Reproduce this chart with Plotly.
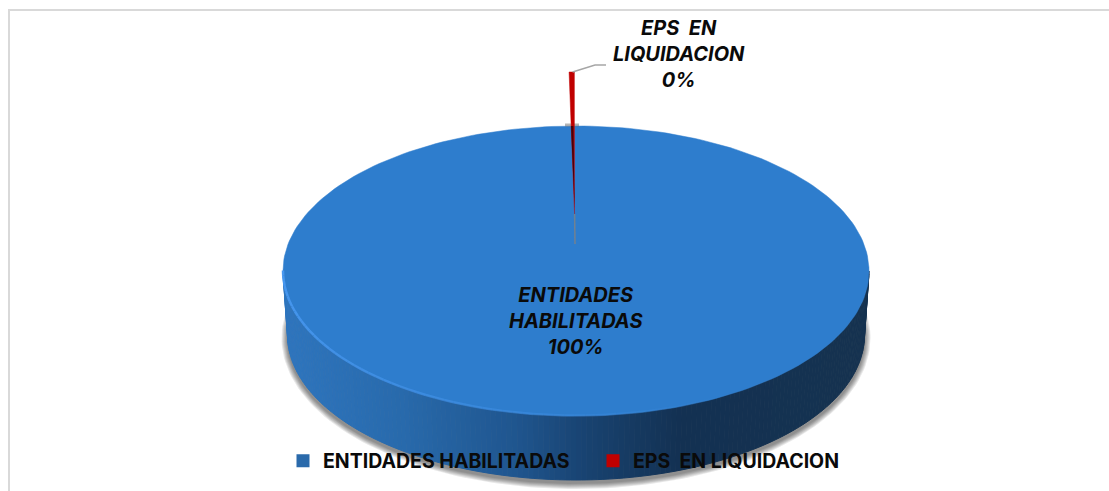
import math
import numpy as np
import plotly.graph_objects as go

# ---- data ----
categories = ["ENTIDADES HABILITADAS", "EPS  EN LIQUIDACION"]
values = [99.7, 0.3]
label_lines = [["ENTIDADES", "HABILITADAS"], ["EPS  EN", "LIQUIDACION"]]
slice_colors = ["#2E7DCD", "#C00000"]

# ---- drawing geometry of the tilted disc ----
W, H = 1109, 491
CX, CY, RX, RY = 576, 271, 293, 145
BCY, BRX, BRY = 335, 288.5, 145
APEX_X, APEX_Y, EXPLODED_R = 574.6, 214, 142
STOPS = [(0.0, (46, 117, 190)), (0.2, (40, 106, 172)), (0.4, (31, 85, 142)),
         (0.52, (24, 66, 112)), (0.68, (19, 49, 82)), (1.0, (21, 50, 80))]
FONT = "Inter"


def side_colour(t):
    for (t0, c0), (t1, c1) in zip(STOPS, STOPS[1:]):
        if t <= t1:
            f = (t - t0) / (t1 - t0)
            return "rgb(%d,%d,%d)" % tuple(round(a + (b - a) * f) for a, b in zip(c0, c1))
    return "rgb(%d,%d,%d)" % STOPS[-1][1]


fig = go.Figure()


def poly(x, y, fill, line=None, width=0):
    fig.add_trace(go.Scatter(x=list(x), y=list(y), mode="lines", fill="toself", fillcolor=fill,
                             line=dict(color=line or "rgba(0,0,0,0)", width=width),
                             showlegend=False, hoverinfo="skip"))


def stroke(x, y, color, width):
    fig.add_trace(go.Scatter(x=list(x), y=list(y), mode="lines", line=dict(color=color, width=width),
                             showlegend=False, hoverinfo="skip"))


# soft shadow under the disc
ang = np.linspace(0, 2 * np.pi, 241)
for k in range(6, 0, -1):
    poly(CX + (BRX + k) * np.cos(ang), BCY + 3 + (BRY + k) * np.sin(ang), "rgba(0,0,0,0.09)")

# rim with a horizontal shading
N = 170
edges = np.linspace(np.pi, 0, N + 1)
for a0, a1 in zip(edges[:-1], edges[1:]):
    t = (math.cos((a0 + a1) / 2) + 1) / 2
    col = side_colour(t)
    poly([CX + RX * math.cos(a0), CX + RX * math.cos(a1), CX + BRX * math.cos(a1), CX + BRX * math.cos(a0)],
         [CY + RY * math.sin(a0), CY + RY * math.sin(a1), BCY + BRY * math.sin(a1), BCY + BRY * math.sin(a0)],
         col, col, 1)

# top face: the large share is the whole disc, the small wedge is pulled out
poly(CX + RX * np.cos(ang), CY + RY * np.sin(ang), slice_colors[0], slice_colors[0], 0.5)

# bevel highlight on the front-left edge
seg = np.linspace(np.pi, 0.32 * np.pi, 61)
for i, (a0, a1) in enumerate(zip(seg[:-1], seg[1:])):
    alpha = 1 - i / (len(seg) - 1)
    stroke([CX + RX * math.cos(a0), CX + RX * math.cos(a1)],
           [CY + RY * math.sin(a0) - 0.5, CY + RY * math.sin(a1) - 0.5],
           "rgba(72,152,240,%.3f)" % alpha, 2.5)

# small wedge from its share of the circle
theta = values[1] / 100 * 2 * math.pi
wx = [APEX_X, APEX_X - RX * math.sin(theta), APEX_X + 0.0]
wy = [APEX_Y, APEX_Y - EXPLODED_R * math.cos(theta), APEX_Y - EXPLODED_R]
stroke([APEX_X, APEX_X + 0.4], [APEX_Y, 244], "rgba(130,130,130,0.8)", 1.5)
stroke([CX - 11, CX + 3], [125, 125], "rgba(90,90,90,0.45)", 3)
poly(wx, wy, slice_colors[1], slice_colors[1], 0.5)
# dark inner side where the wedge crosses the disc
poly([APEX_X, APEX_X - 3.6, APEX_X - 1.2], [APEX_Y - 5, 126, 126], "rgba(50,0,10,0.85)")
# leader line
stroke([APEX_X - 2, 595, 606], [72, 65, 65], "#A6A6A6", 1.5)

# legend entries
for name, col in zip(categories, slice_colors):
    fig.add_trace(go.Scatter(x=[None], y=[None], mode="markers", name=name,
                             marker=dict(symbol="square", size=13, color=col if col != slice_colors[0] else "#2A6AAB"),
                             hoverinfo="skip"))

font = dict(family=FONT, size=20, color="#0A0A0A")


def pct(v):
    return "%d%%" % round(v)


fig.add_annotation(x=576, y=321, xref="x", yref="y", showarrow=False, align="center",
                   text="<b><i>" + "<br>".join(label_lines[0] + [pct(values[0])]) + "</i></b>", font=font)
fig.add_annotation(x=678.5, y=54, xref="x", yref="y", showarrow=False, align="center",
                   text="<b><i>" + "<br>".join(label_lines[1] + [pct(values[1])]) + "</i></b>", font=font)

fig.update_layout(
    width=W, height=H, autosize=False,
    margin=dict(l=0, r=0, t=0, b=0), paper_bgcolor="white", plot_bgcolor="white",
    xaxis=dict(visible=False, range=[0, W], fixedrange=True),
    yaxis=dict(visible=False, range=[H, 0], fixedrange=True),
    font=dict(family=FONT),
    legend=dict(orientation="h", x=283 / W, xanchor="left", y=1 - 461 / H, yanchor="middle",
                bgcolor="rgba(0,0,0,0)", entrywidth=265, entrywidthmode="pixels", itemwidth=30,
                font=dict(family=FONT, size=19.5, color="#0A0A0A", weight="bold")),
    shapes=[dict(type="line", xref="x", yref="y", x0=9, x1=9, y0=10, y1=491, line=dict(color="#D9D9D9", width=2)),
            dict(type="line", xref="x", yref="y", x0=8, x1=W, y0=10, y1=10, line=dict(color="#D9D9D9", width=2))],
)
fig.write_html("out.html", config=dict(displayModeBar=False),
               post_script="document.body.style.margin='0';document.body.style.overflow='hidden';")
